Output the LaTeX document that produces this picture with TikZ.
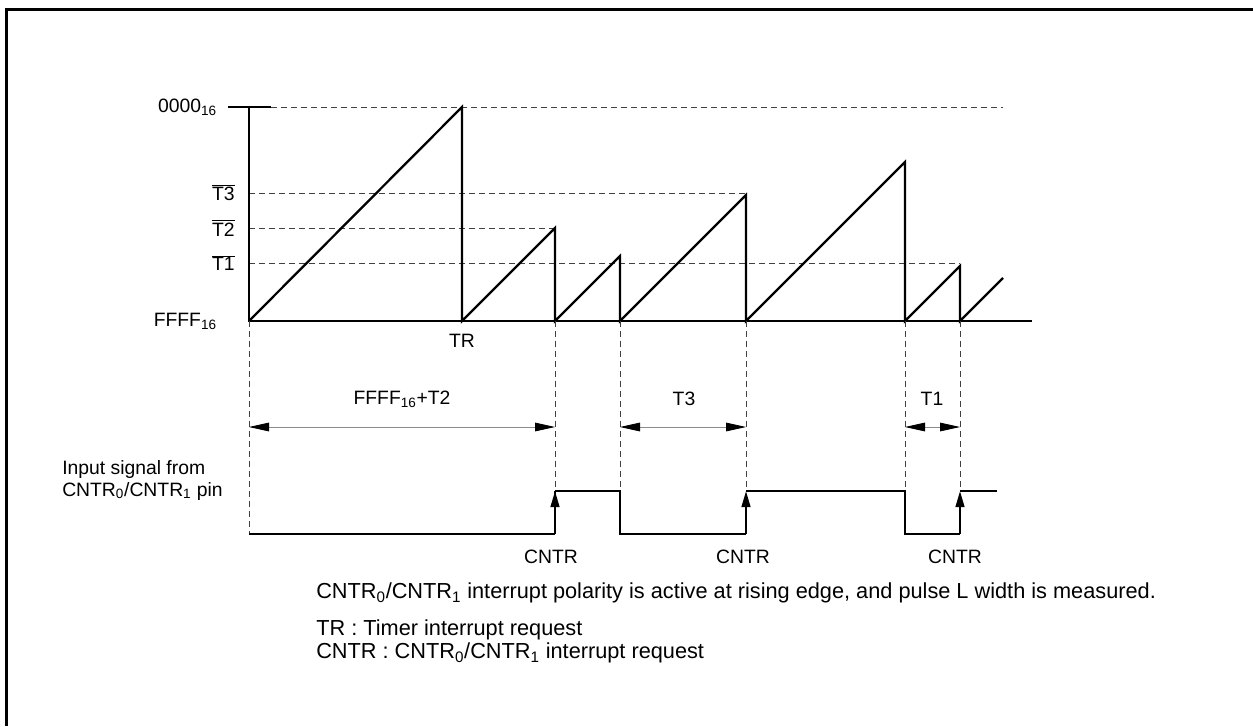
\documentclass[tikz,border=0pt]{standalone}
\usepackage{fontspec}
\setmainfont{Liberation Sans}
\usetikzlibrary{arrows.meta}
\newcommand{\sbs}[1]{\textsubscript{#1}}
\newcommand{\ovl}[1]{$\overline{\mbox{#1}}$}
\tikzset{
  wave/.style={line width=1.7pt, line join=miter, line cap=butt},
  guide/.style={line width=0.6pt, dash pattern=on 4.5pt off 3pt, black!75},
  dimline/.style={line width=0.6pt, black!45, {Triangle[length=15pt,width=6.5pt,fill=black,color=black]}-{Triangle[length=15pt,width=6.5pt,fill=black,color=black]}},
  edgearrow/.style={line width=1.7pt, -{Triangle[length=12pt,width=6.5pt]}},
  lbl/.style={inner sep=0pt, font=\fontsize{14.5pt}{17pt}\selectfont},
  note/.style={inner sep=0pt, font=\fontsize{16.3pt}{19pt}\selectfont},
  frameline/.style={line width=1.6pt}
}
\begin{document}
\begin{tikzpicture}[x=0.75pt,y=-0.75pt]
\useasboundingbox (0,0) rectangle (1253,726);
% frame (top and left only)
\draw[frameline] (1253,9.5) -- (6.5,9.5) -- (6.5,726);

% levels
\coordinate (o) at (249,321);
\coordinate (top) at (249,107);
\coordinate (end) at (1032,321);
% ramp points
\coordinate (p1) at (462,107);  \coordinate (b1) at (462,321);
\coordinate (p2) at (555,228);  \coordinate (b2) at (555,321);
\coordinate (p3) at (620,256);  \coordinate (b3) at (620,321);
\coordinate (p4) at (746,195);  \coordinate (b4) at (746,321);
\coordinate (p5) at (905,162);  \coordinate (b5) at (905,321);
\coordinate (p6) at (960,266);  \coordinate (b6) at (960,321);
\coordinate (p7) at (1003,278);

% dashed horizontal guides
\draw[guide] (271,107) -- (1003,107);
\draw[guide] (249,193) -- (746,193);
\draw[guide] (249,228) -- (p2);
\draw[guide] (249,263) -- (960,263);

% axes
\draw[wave] (228,107) -- (271,107);
\draw[wave] (top) -- (o) -- (end);

% sawtooth
\draw[wave] (o) -- (p1) -- (b1) -- (p2) -- (b2) -- (p3) -- (b3) -- (p4) -- (b4) -- (p5) -- (b5) -- (p6) -- (b6) -- (p7);

% axis labels
\node[lbl, anchor=east] (l0) at (217,107) {0000\sbs{16}};
\node[lbl, anchor=east] (lF) at (217,321) {FFFF\sbs{16}};
\node[lbl, anchor=east] (l3) at (235,193) {\ovl{T3}};
\node[lbl, anchor=east] (l2) at (235,228) {\ovl{T2}};
\node[lbl, anchor=east] (l1) at (235,263) {\ovl{T1}};
\node[lbl] (tr) at (462,341) {TR};

% signal levels
\coordinate (s0) at (249,534);
\coordinate (u1) at (555,491); \coordinate (l1b) at (555,534);
\coordinate (d1) at (620,491); \coordinate (d1b) at (620,534);
\coordinate (u2) at (746,491); \coordinate (u2b) at (746,534);
\coordinate (d2) at (905,491); \coordinate (d2b) at (905,534);
\coordinate (u3) at (960,491); \coordinate (u3b) at (960,534);
\coordinate (sEnd) at (997,491);

% vertical dashed guides
\draw[guide] (o) -- (s0);
\draw[guide] (b2) -- (u1);
\draw[guide] (b3) -- (d1);
\draw[guide] (b4) -- (u2);
\draw[guide] (b5) -- (d2);
\draw[guide] (b6) -- (u3);

% dimension arrows
\coordinate (a0) at (249,427); \coordinate (a1) at (555,427);
\coordinate (a2) at (620,427); \coordinate (a3) at (746,427);
\coordinate (a4) at (905,427); \coordinate (a5) at (960,427);
\draw[dimline] (a0) -- (a1);
\draw[dimline] (a2) -- (a3);
\draw[dimline] (a4) -- (a5);
\node[lbl] (dimA) at (402,399) {FFFF\sbs{16}+T2};
\node[lbl] (dimB) at (684,399) {T3};
\node[lbl] (dimC) at (932,399) {T1};

% input signal
\draw[wave] (s0) -- (l1b);
\draw[wave] (l1b) -- (u1);
\draw[wave] (u1) -- (d1) -- (d1b) -- (u2b);
\draw[wave] (u2) -- (d2) -- (d2b) -- (u3b);
\draw[wave] (u3) -- (sEnd);
\draw[edgearrow] (l1b) -- (u1);
\draw[edgearrow] (u2b) -- (u2);
\draw[edgearrow] (u3b) -- (u3);

\node[lbl, anchor=west] (in1) at (62,469) {Input signal from};
\node[lbl, anchor=west] (in2) at (62,491) {CNTR\sbs{0}/CNTR\sbs{1} pin};

\node[lbl] (c1) at (551,557) {CNTR};
\node[lbl] (c2) at (743,557) {CNTR};
\node[lbl] (c3) at (955,557) {CNTR};

% notes
\node[note, anchor=west] (n1) at (316,593) {CNTR\sbs{0}/CNTR\sbs{1} interrupt polarity is active at rising edge, and pulse L width is measured.};
\node[note, anchor=west] (n2) at (316,630) {TR : Timer interrupt request};
\node[note, anchor=west] (n3) at (316,653) {CNTR : CNTR\sbs{0}/CNTR\sbs{1} interrupt request};
\end{tikzpicture}
\end{document}
